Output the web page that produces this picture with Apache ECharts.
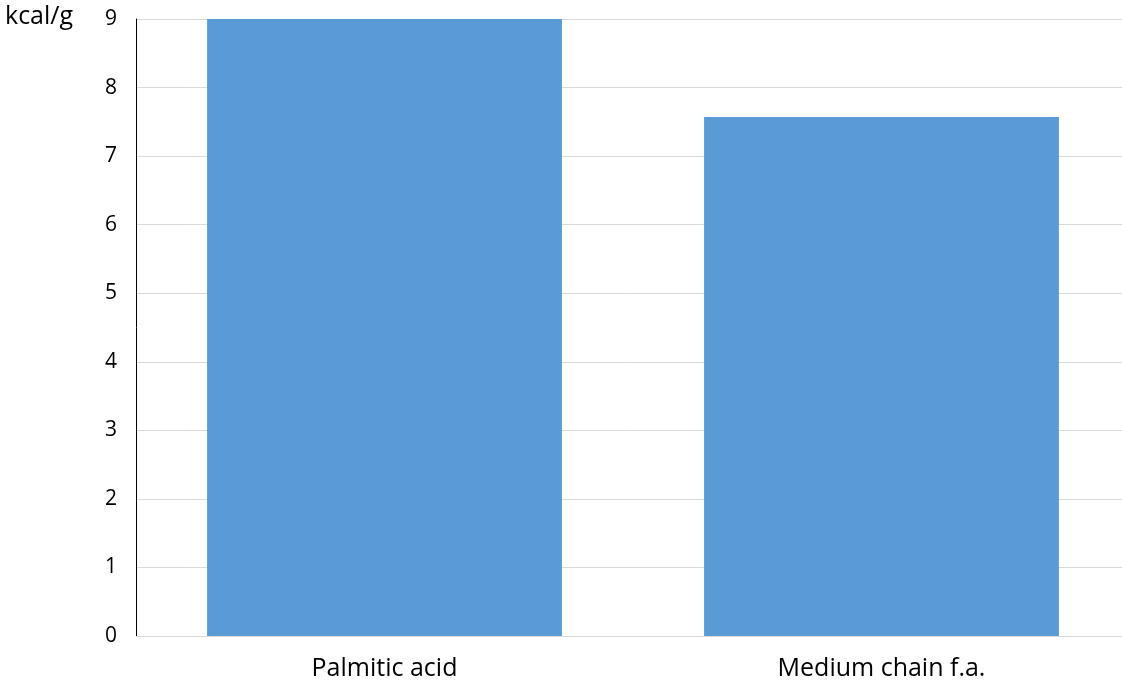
<!DOCTYPE html>
<html><head><meta charset="utf-8">
<script src="https://cdn.jsdelivr.net/npm/echarts@6/dist/echarts.min.js"></script>
<style>html,body{margin:0;padding:0;background:#fff}#c{width:1122px;height:687px}</style>
</head><body><div id="c"></div>
<script>
const categories = ["Palmitic acid", "Medium chain f.a."];
const values = [9, 7.57];
const yTicks = {min: 0, max: 9, interval: 1};
const yUnit = "kcal/g";

const chart = echarts.init(document.getElementById('c'), null, {renderer: 'canvas'});
chart.setOption({
  animation: false,
  textStyle: {fontFamily: 'Open Sans'},
  grid: {left: 136, width: 994, top: 19, bottom: 51, outerBoundsMode: 'none', containLabel: false},
  graphic: [{type: 'text', left: 5, top: 4, style: {text: yUnit, font: '25px "Open Sans"', fill: '#000'}}],
  xAxis: {
    type: 'category', data: categories,
    axisLine: {lineStyle: {color: '#d9d9d9', width: 1}},
    axisTick: {show: false},
    axisLabel: {color: '#000', fontSize: 25, margin: 20, fontFamily: 'Open Sans'}
  },
  yAxis: {
    type: 'value', min: yTicks.min, max: yTicks.max, interval: yTicks.interval,
    axisLine: {show: true, lineStyle: {color: '#000', width: 1}},
    axisTick: {show: false},
    splitLine: {lineStyle: {color: '#d9d9d9'}},
    axisLabel: {color: '#000', fontSize: 21, margin: 19, fontFamily: 'Open Sans'}
  },
  series: [{
    type: 'bar', data: values, barWidth: '71.4%',
    itemStyle: {color: '#5b9bd5'}
  }]
});
</script></body></html>
